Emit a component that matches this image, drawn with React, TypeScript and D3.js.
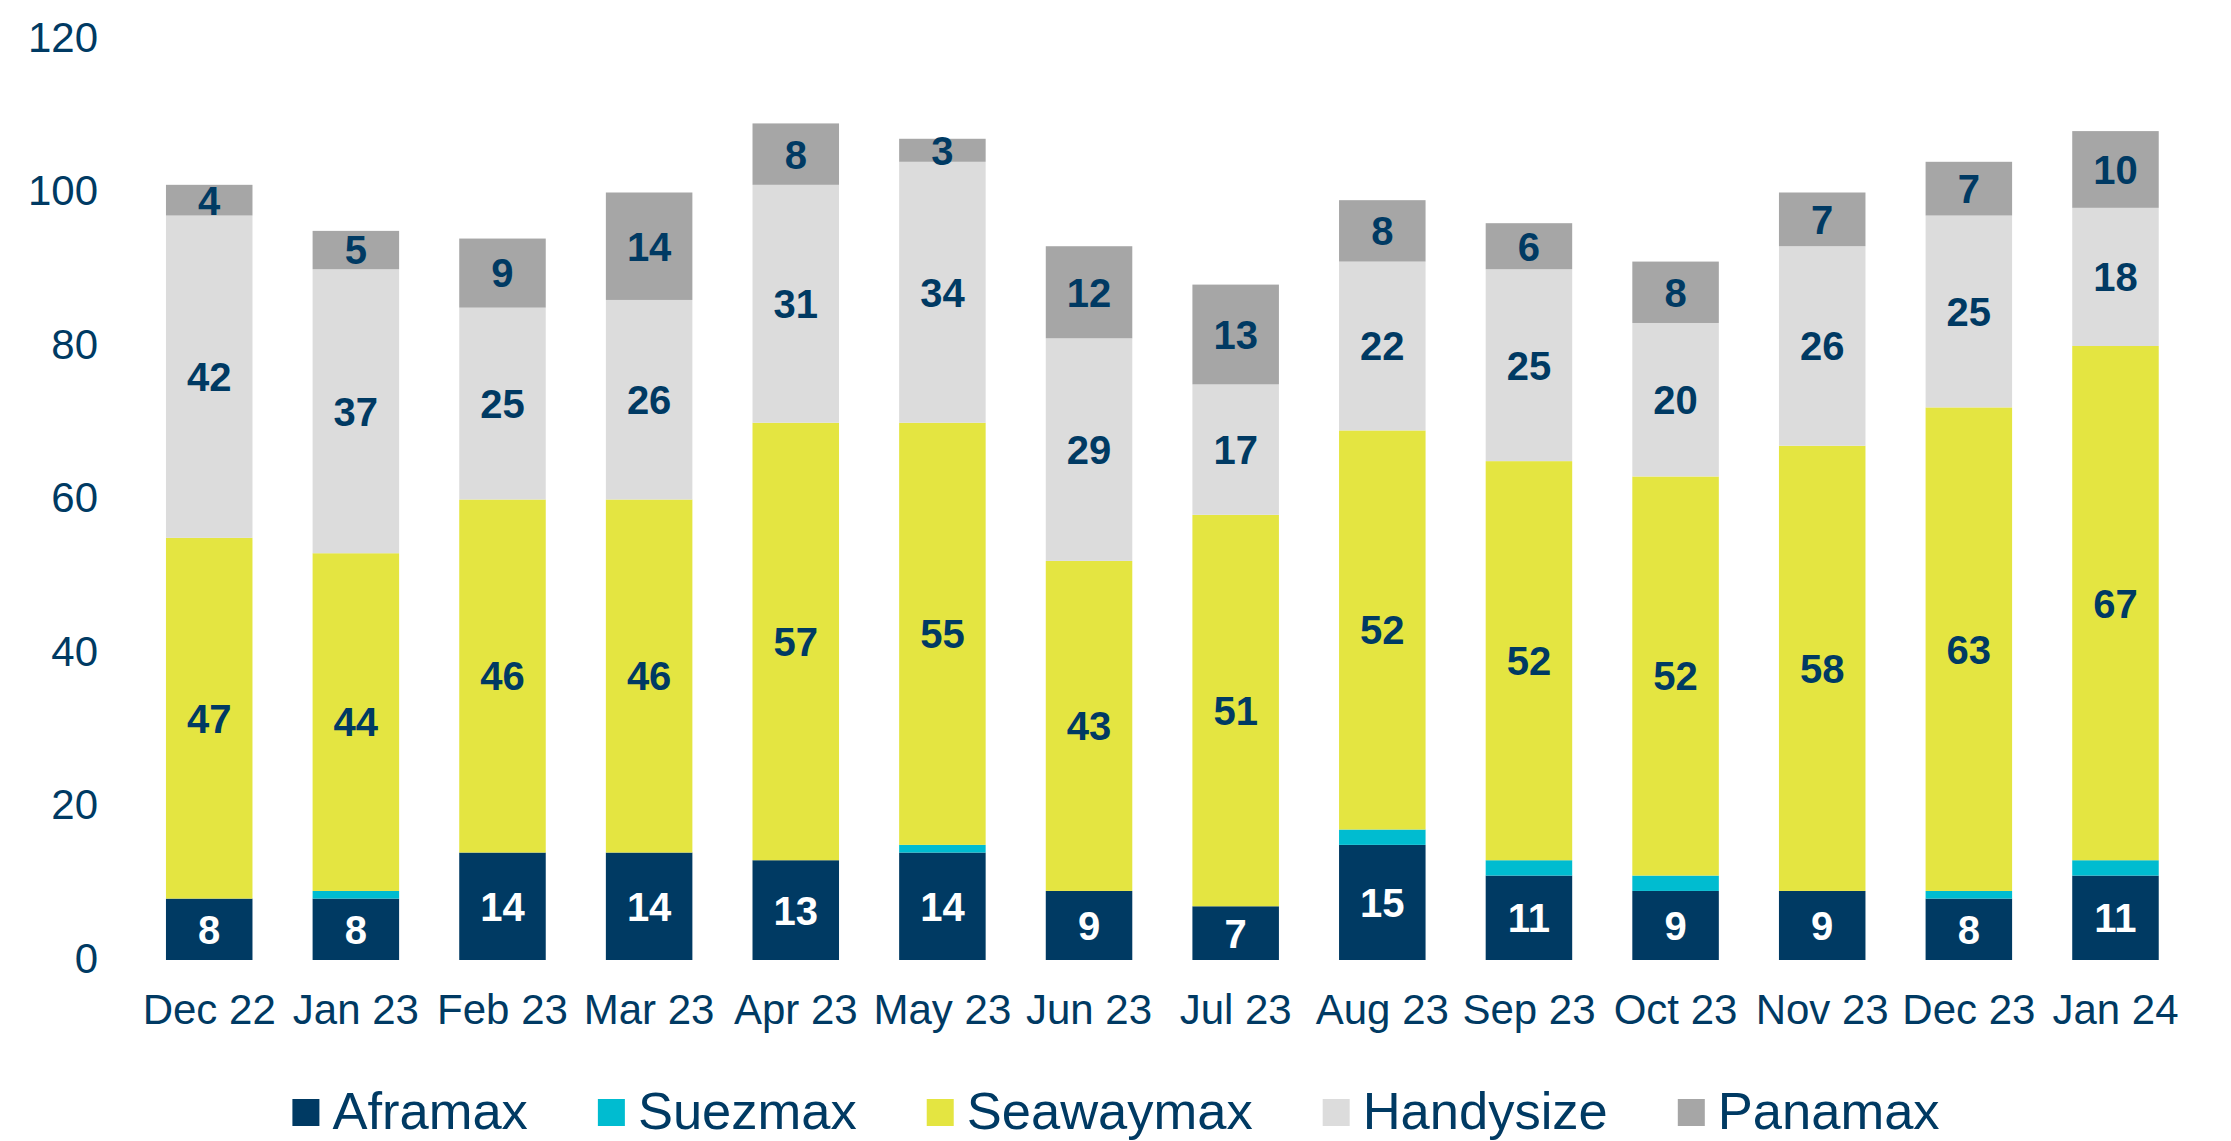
import React from "react";
import * as d3 from "d3";

const months = ["Dec 22","Jan 23","Feb 23","Mar 23","Apr 23","May 23","Jun 23","Jul 23","Aug 23","Sep 23","Oct 23","Nov 23","Dec 23","Jan 24"];
const aframax = [8,8,14,14,13,14,9,7,15,11,9,9,8,11];
const suezmax = [0,1,0,0,0,1,0,0,2,2,2,0,1,2];
const seawaymax = [47,44,46,46,57,55,43,51,52,52,52,58,63,67];
const handysize = [42,37,25,26,31,34,29,17,22,25,20,26,25,18];
const panamax = [4,5,9,14,8,3,12,13,8,6,8,7,7,10];
const yTicks = [0,20,40,60,80,100,120];

const seriesNames = ["Aframax","Suezmax","Seawaymax","Handysize","Panamax"];
const seriesValues = [aframax, suezmax, seawaymax, handysize, panamax];
const seriesColors = ["#003A63","#00BCD0","#E4E541","#DCDCDC","#A6A6A6"];
const labelColors = ["#FFFFFF", null, "#003A63", "#003A63", "#003A63"];

const W = 2231, H = 1141;
const NAVY = "#003A63";
const FONT = "'Liberation Sans', Arial, sans-serif";

function measure(text: string, size: number) {
  const c = document.createElement("canvas").getContext("2d")!;
  c.font = `${size}px ${FONT}`;
  return c.measureText(text).width;
}

export default function App() {
  const x = d3.scaleBand<string>().domain(months).range([135.9, 2188.8]).paddingInner(0.41).paddingOuter(0.205);
  const y = d3.scaleLinear().domain([0, 120]).range([960, 39]);

  const rows = months.map((m, i) => {
    const r: any = { month: m };
    seriesNames.forEach((s, k) => (r[s] = seriesValues[k][i]));
    return r;
  });
  const stacked = d3.stack<any>().keys(seriesNames)(rows);

  const legendFont = 52.5;
  const sq = 27, gapSqText = 13, gapItems = 70;
  const widths = seriesNames.map((n) => measure(n, legendFont));
  const total = widths.reduce((a, w) => a + sq + gapSqText + w, 0) + gapItems * (seriesNames.length - 1);
  let lx = 1116 - total / 2;
  const legendItems = seriesNames.map((n, k) => {
    const item = { name: n, x: lx, color: seriesColors[k] };
    lx += sq + gapSqText + widths[k] + gapItems;
    return item;
  });

  return (
    <svg width={W} height={H} style={{ display: "block", position: "absolute", left: 0, top: 0, background: "#fff" }} fontFamily={FONT}>
      <rect width={W} height={H} fill="#fff" />
      {yTicks.map((t) => (
        <text key={t} x={98} y={y(t) - 2} dy="0.35em" textAnchor="end" fontSize={42} fill={NAVY}>{t}</text>
      ))}
      {stacked.map((layer, k) => (
        <g key={layer.key}>
          {layer.map((d, i) => {
            const v = d[1] - d[0];
            if (v <= 0) return null;
            return (
              <rect key={i} x={x(months[i])} y={y(d[1])} width={x.bandwidth()} height={y(d[0]) - y(d[1])} fill={seriesColors[k]} />
            );
          })}
        </g>
      ))}
      {stacked.map((layer, k) =>
        labelColors[k] ? (
          <g key={"l" + layer.key}>
            {layer.map((d, i) => {
              const v = d[1] - d[0];
              if (v <= 0) return null;
              return (
                <text key={i} x={x(months[i])! + x.bandwidth() / 2} y={(y(d[0]) + y(d[1])) / 2} dy="0.36em" textAnchor="middle" fontSize={40} fontWeight="bold" fill={labelColors[k]!}>{v}</text>
              );
            })}
          </g>
        ) : null
      )}
      {months.map((m) => (
        <text key={m} x={x(m)! + x.bandwidth() / 2} y={1009} dy="0.36em" textAnchor="middle" fontSize={42} fill={NAVY}>{m}</text>
      ))}
      {legendItems.map((it) => (
        <g key={it.name}>
          <rect x={it.x} y={1099} width={sq} height={sq} fill={it.color} />
          <text x={it.x + sq + gapSqText} y={1129} fontSize={legendFont} fill={NAVY}>{it.name}</text>
        </g>
      ))}
    </svg>
  );
}
